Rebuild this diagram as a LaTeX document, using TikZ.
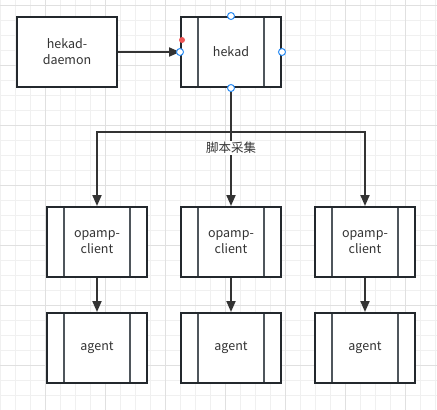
\documentclass[tikz,border=0pt]{standalone}
\usepackage{fontspec}
\setmainfont{Noto Sans CJK SC}
\usetikzlibrary{arrows.meta,positioning}

\definecolor{boxline}{HTML}{23282D}
\definecolor{innerline}{HTML}{4F565C}
\definecolor{linkcol}{HTML}{333333}
\definecolor{txtgray}{HTML}{333333}
\definecolor{gridminor}{HTML}{F0F0F0}
\definecolor{gridmajor}{HTML}{E0E0E0}
\definecolor{handleblue}{HTML}{2B8CF3}
\definecolor{dotred}{HTML}{EE5555}

\begin{document}
\begin{tikzpicture}[x=1pt,y=-1pt,
  box/.style={draw=boxline, line width=2pt, fill=white, minimum width=100pt,
    minimum height=70pt, align=center, text=txtgray,
    font=\fontsize{12.5}{16}\selectfont},
  proc/.style={box, path picture={
    \draw[innerline, line width=1.5pt]
      ([xshift=17pt]path picture bounding box.north west) --
      ([xshift=17pt]path picture bounding box.south west);
    \draw[innerline, line width=1.5pt]
      ([xshift=-17pt]path picture bounding box.north east) --
      ([xshift=-17pt]path picture bounding box.south east);}},
  link/.style={draw=linkcol, line width=2pt},
  arrow/.style={link, -{Triangle[length=11pt,width=9pt]}},
  handle/.style={circle, draw=handleblue, fill=white, line width=1pt,
    inner sep=0pt, minimum size=7pt},
  reddot/.style={circle, fill=dotred, inner sep=0pt, minimum size=6pt}
]
  \useasboundingbox (0,0) rectangle (437,410);

  % grid
  \foreach \x in {0,15,...,435}
    \draw[gridminor, line width=1pt] (\x,0) -- (\x,410);
  \foreach \y in {5,20,...,410}
    \draw[gridminor, line width=1pt] (0,\y) -- (437,\y);
  \foreach \x in {45,105,...,435}
    \draw[gridmajor, line width=1pt] (\x,0) -- (\x,410);
  \foreach \y in {5,65,...,410}
    \draw[gridmajor, line width=1pt] (0,\y) -- (437,\y);

  % top row
  \node[box] (daemon) at (67,52) {hekad-\\daemon};
  \node[proc] (hekad) at (231,52) {hekad};

  % clients and agents
  \node[proc] (client1) at (97,242) {opamp-\\client};
  \node[proc] (client2) at (231,242) {opamp-\\client};
  \node[proc] (client3) at (365,242) {opamp-\\client};
  \node[proc] (agent1) at (97,348) {agent};
  \node[proc] (agent2) at (231,348) {agent};
  \node[proc] (agent3) at (365,348) {agent};

  % connectors
  \draw[arrow] (daemon) -- (hekad);
  \coordinate (bus) at (231,132);
  \draw[link] (hekad) -- (bus);
  \draw[arrow] (bus) -| (client1);
  \draw[arrow] (bus) -- (client2);
  \draw[arrow] (bus) -| (client3);
  \node[fill=white, inner sep=1pt, text=txtgray,
    font=\fontsize{12.5}{16}\selectfont] (label) at (231,148) {脚本采集};
  \foreach \i in {1,2,3}
    \draw[arrow] (client\i) -- (agent\i);

  % selection handles
  \node[handle] (hn) at (hekad.north) {};
  \node[handle] (hs) at (hekad.south) {};
  \node[handle] (hw) at (hekad.west) {};
  \node[handle] (he) at (hekad.east) {};
  \node[reddot] (hr) at (182,40) {};
\end{tikzpicture}
\end{document}
